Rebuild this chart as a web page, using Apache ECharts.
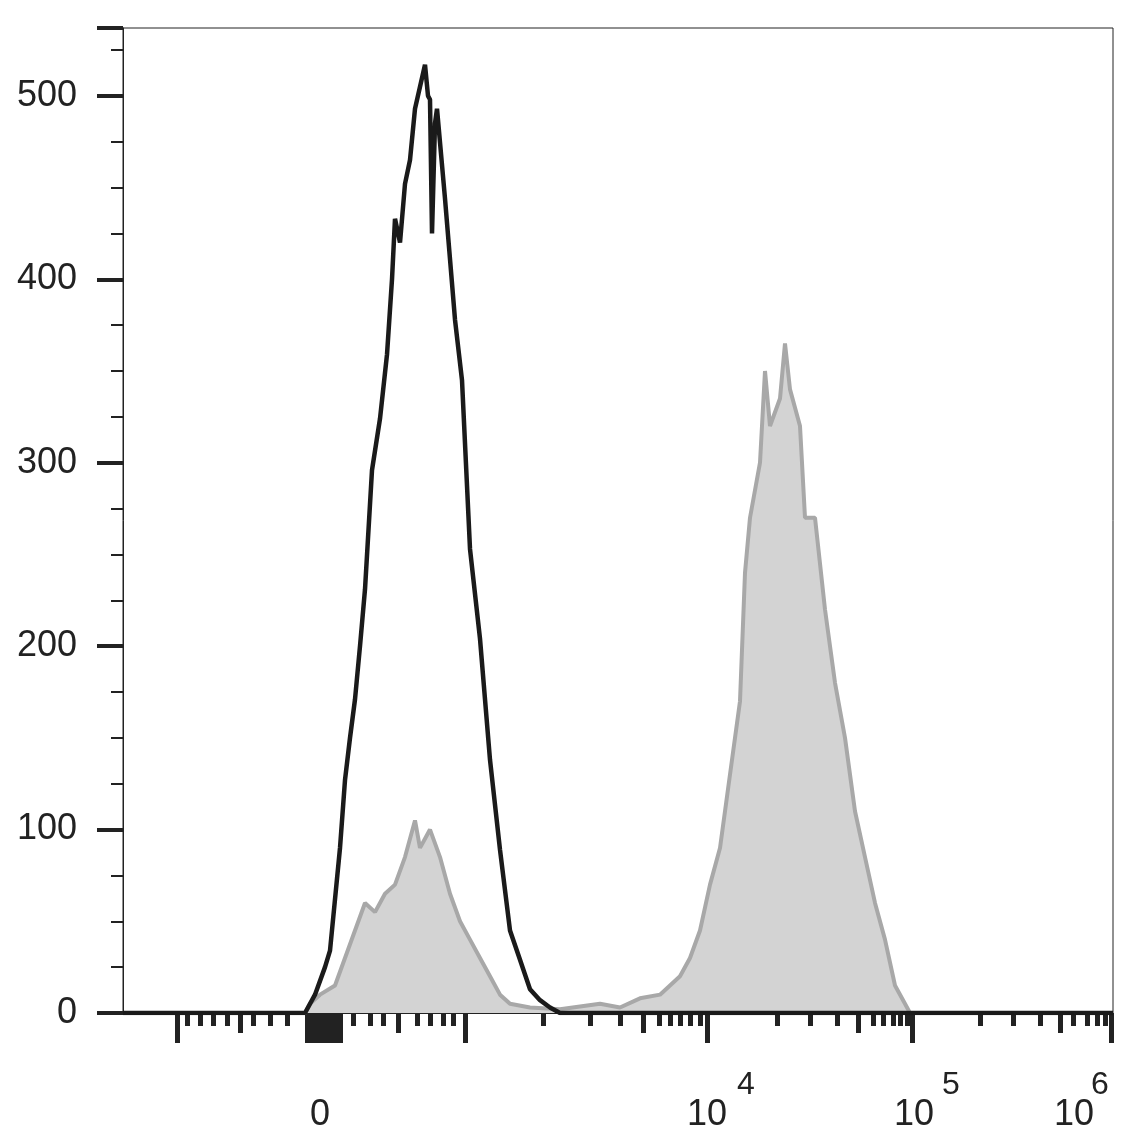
<!DOCTYPE html><html><head><meta charset="utf-8"><script src="https://cdn.jsdelivr.net/npm/echarts@6/dist/echarts.min.js"></script></head><body style="margin:0"><div id="c" style="width:1136px;height:1137px"></div><script>
const blackX=[123,305,315,325,330,340,345,350,355,360,365,372,380,387,392,395,400,405,410,415,420,425,428,430,432,435,437,445,455,462,470,480,490,500,510,520,530,540,550,560,1113];
const blackY=[0,0,10,25,34,90,127,150,171,200,231,296,324,359,400,433,420,452,465,493,505,517,500,498,425,485,493,444,378,345,253,204,138,89,45,29,13,7,3,0,0];
const grayX=[123,305,310,320,335,345,355,365,375,385,395,405,415,420,425,430,440,450,460,470,480,490,500,510,530,560,600,620,640,660,680,690,700,710,720,730,740,745,750,760,765,770,780,785,790,800,805,815,825,835,845,855,865,875,885,895,905,910,1113];
const grayY=[0,0,5,10,15,30,45,60,55,65,70,85,105,90,95,100,85,65,50,40,30,20,10,5,3,2,5,3,8,10,20,30,45,70,90,130,170,240,270,300,350,320,335,365,340,320,270,270,220,180,150,110,85,60,40,15,5,0,0];
const longTicks=[177,307,312,317,322,327,332,337,340,465,707,912,1111];
const medTicks=[240,398,643,858,1060];
const shortTicks=[187,200,213,227,253,270,287,353,370,383,417,430,443,453,543,590,620,659,670,680,690,700,777,810,837,873,883,893,900,907,980,1013,1040,1073,1087,1097,1105];
const basePos=[320,707,914,1074];
const baseText=['0','10','10','10'];
const expPos=[746,951,1100];
const expText=['4','5','6'];
const yMax=537;
const font={fontFamily:'Liberation Sans',color:'#222'};
const ax=(ticks,len,lineShow)=>({type:'value',min:123,max:1113,position:'bottom',axisLine:{show:lineShow,lineStyle:{color:'#222',width:1}},splitLine:{show:false},
 axisTick:{show:true,customValues:ticks,length:len,lineStyle:{color:'#222',width:5}},axisLabel:{show:false}});
const lab=(pos,txt,margin,size)=>({type:'value',min:123,max:1113,position:'bottom',axisLine:{show:false},axisTick:{show:false},splitLine:{show:false},
 axisLabel:Object.assign({show:true,customValues:pos,margin,fontSize:size,formatter:v=>txt[pos.indexOf(v)]||''},font)});
const opt={animation:false,
 grid:{left:123,right:23,top:28,bottom:124,outerBoundsMode:'none',containLabel:false,show:true,borderColor:'#222',borderWidth:1},
 xAxis:[ax(longTicks,30,true),ax(medTicks,20,false),ax(shortTicks,13,false),lab(basePos,baseText,84,36),lab(expPos,expText,56,32)],
 yAxis:[{type:'value',min:0,max:yMax,interval:25,axisLine:{show:true,lineStyle:{color:'#222'}},splitLine:{show:false},axisTick:{length:12,lineStyle:{color:'#222',width:2}},
   axisLabel:Object.assign({fontSize:36,margin:46,formatter:v=>v%100===0?String(v):''},font)},
  {type:'value',min:0,max:yMax,interval:100,position:'left',axisLine:{show:false},splitLine:{show:false},axisTick:{length:26,lineStyle:{color:'#222',width:4}},axisLabel:{show:false}}],
 series:[
  {type:'line',data:grayX.map((x,i)=>[x,grayY[i]]),showSymbol:false,lineStyle:{color:'#a8a8a8',width:4},areaStyle:{color:'#d3d3d3',opacity:1},z:2},
  {type:'line',data:blackX.map((x,i)=>[x,blackY[i]]),showSymbol:false,lineStyle:{color:'#1a1a1a',width:4.5},z:3}
 ]};
echarts.init(document.getElementById('c')).setOption(opt);
</script></body></html>
